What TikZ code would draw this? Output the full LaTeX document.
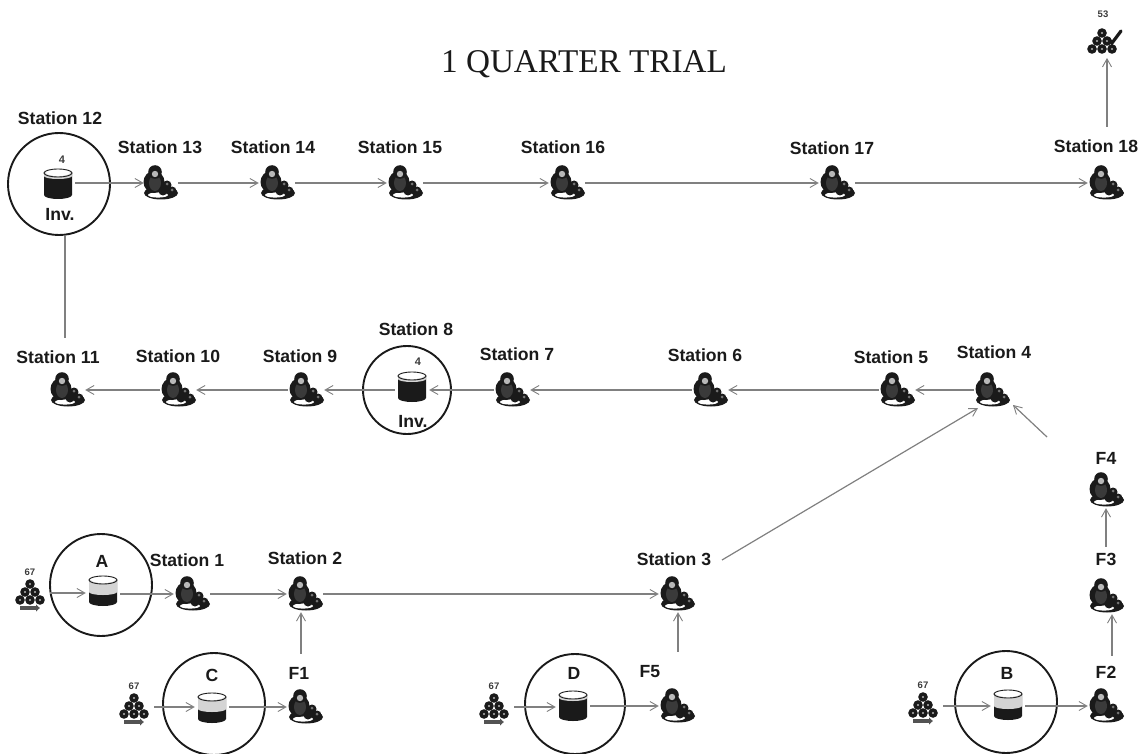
\documentclass[tikz,border=0pt]{standalone}
\usepackage{fontspec}
\setmainfont{Liberation Sans}
\newfontfamily\titlefont{Liberation Serif}
\usetikzlibrary{arrows.meta}
\definecolor{ink}{HTML}{1A1A1A}
\definecolor{body}{HTML}{3A3A3A}
\definecolor{skin}{HTML}{B8B8B8}
\definecolor{wire}{HTML}{808080}
\tikzset{
  x=1pt,y=-1pt,
  lbl/.style={font=\fontsize{17.6}{19}\selectfont\bfseries,text=ink,inner sep=0pt},
  tiny/.style={font=\fontsize{9.5}{10}\selectfont\bfseries,text=ink!85,inner sep=0pt},
  workerbox/.style={minimum width=36pt,minimum height=36pt,inner sep=0pt},
  cylbox/.style={minimum width=34pt,minimum height=32pt,inner sep=0pt},
  pilebox/.style={minimum width=40pt,minimum height=36pt,inner sep=0pt},
  ring/.style={circle,draw=ink,line width=1.9pt,inner sep=0pt},
  conn/.style={draw=wire,line width=1.2pt,-{Straight Barb[length=8pt,width=9pt,line width=.9pt]}},
  plain/.style={draw=wire,line width=1.2pt},
  pics/workericon/.style={code={
    \fill[ink] (1,10) ellipse[x radius=17,y radius=6.5];
    \fill[white] (-2,12) ellipse[x radius=10,y radius=2.6];
    \fill[ink] (-6,-1) ellipse[x radius=10.5,y radius=11];
    \fill[body] (-5,0) ellipse[x radius=6,y radius=8];
    \fill[ink] (-5,-11) circle[radius=6.8];
    \fill[skin] (-5,-9) circle[radius=3.2];
    \fill[ink] (7,2) circle[radius=4.5];
    \fill[ink] (3,8) circle[radius=4.5];
    \fill[ink] (12,8) circle[radius=4.5];
    \fill[body!70] (7,1) circle[radius=1.5];
    \fill[body!70] (12,7) circle[radius=1.5];
  }},
  pics/ballsicon/.style={code={
    \foreach \bx/\by in {0/-9,-5/-1,5/-1,-10/7,0/7,10/7}{
      \fill[ink] (\bx,\by) circle[radius=4.8];
      \fill[skin] (\bx,\by) circle[radius=1.2];
    }
  }},
  pics/feedstripe/.style={code={
    \draw[ink!75,line width=3.6pt,-{Latex[length=4pt,width=8pt]}] (-10,15) -- (10,15);
  }},
  pics/checkicon/.style={code={
    \draw[ink,line width=3.2pt,line cap=round] (6,-4) -- (10,1) -- (19,-11);
  }},
  pics/cylicon/.style={code={
    \fill[ink] (-14,-11) -- (-14,11) arc[start angle=180,end angle=0,x radius=14,y radius=4] -- (14,-11) -- cycle;
    \fill[skin!60] (-14,-11) -- (-14,-11+#1) arc[start angle=180,end angle=0,x radius=14,y radius=3] -- (14,-11) -- cycle;
    \fill[white] (0,-11) ellipse[x radius=12,y radius=3];
    \draw[ink,line width=.9pt] (0,-11) ellipse[x radius=14,y radius=4];
  }},
}
\newcommand{\worker}[2]{\node[workerbox] (#1) at (#2) {}; \pic at (#1) {workericon};}
\newcommand{\store}[3]{\node[cylbox] (#1) at (#2) {}; \pic at (#1) {cylicon=#3};}
\newcommand{\feed}[3]{\node[pilebox] (#1) at (#2) {}; \pic at (#1) {ballsicon}; \pic at (#1) {feedstripe};
  \node[tiny] (#1n) at ([yshift=21pt]#1.center) {#3};}
\begin{document}
\begin{tikzpicture}
\useasboundingbox (0,0) rectangle (1145,754);
\fill[white] (0,0) rectangle (1145,754);

\node[font=\titlefont\fontsize{33.2}{35}\selectfont,text=ink,inner sep=0pt] (title) at (584,64) {1 QUARTER TRIAL};

% top row
\node[ring,minimum size=102pt] (r12) at (59,184) {};
\store{c12}{58,184}{3}
\node[tiny,font=\fontsize{11}{12}\selectfont\bfseries] (n12) at (62,160) {4};
\node[lbl] (i12) at (60,214) {Inv.};
\node[lbl] (s12) at (60,118) {Station 12};
\worker{w13}{160,183}
\worker{w14}{277,183}
\worker{w15}{405,183}
\worker{w16}{567,183}
\worker{w17}{837,183}
\worker{w18}{1106,183}
\node[lbl] (s13) at (160,147) {Station 13};
\node[lbl] (s14) at (273,147) {Station 14};
\node[lbl] (s15) at (400,147) {Station 15};
\node[lbl] (s16) at (563,147) {Station 16};
\node[lbl] (s17) at (832,148) {Station 17};
\node[lbl] (s18) at (1096,146) {Station 18};

% finished goods
\node[pilebox] (done) at (1102,42) {};
\pic at (done) {ballsicon};
\pic at (done) {checkicon};
\node[tiny] (n53) at (1103,14) {53};

% middle row
\worker{w4}{992,390}
\worker{w5}{897,390}
\worker{w6}{710,390}
\worker{w7}{512,390}
\node[ring,minimum size=88pt] (r8) at (407,390) {};
\store{c8}{412,387}{3}
\node[tiny,font=\fontsize{11}{12}\selectfont\bfseries] (n8) at (418,362) {4};
\node[lbl] (i8) at (413,421) {Inv.};
\worker{w9}{306,390}
\worker{w10}{178,390}
\worker{w11}{67,390}
\node[lbl] (s4) at (994,352) {Station 4};
\node[lbl] (s5) at (891,357) {Station 5};
\node[lbl] (s6) at (705,355) {Station 6};
\node[lbl] (s7) at (517,354) {Station 7};
\node[lbl] (s8) at (416,329) {Station 8};
\node[lbl] (s9) at (300,356) {Station 9};
\node[lbl] (s10) at (178,356) {Station 10};
\node[lbl] (s11) at (58,357) {Station 11};

% lower row
\feed{pa}{30,593}{67}
\node[ring,minimum size=102pt] (ra) at (101,585) {};
\store{ca}{103,591}{12}
\node[lbl] (la) at (102,561) {A};
\worker{w1}{192,594}
\worker{w2}{305,594}
\worker{w3}{677,594}
\node[lbl] (s1) at (187,560) {Station 1};
\node[lbl] (s2) at (305,558) {Station 2};
\node[lbl] (s3) at (674,559) {Station 3};

% bottom row
\feed{pc}{134,707}{67}
\node[ring,minimum size=102pt] (rc) at (214,704) {};
\store{cc}{212,708}{12}
\node[lbl] (lc) at (212,675) {C};
\worker{f1}{305,707}
\node[lbl] (lf1) at (299,673) {F1};

\feed{pd}{494,707}{67}
\node[ring,minimum size=100pt] (rd) at (575,704) {};
\store{cd}{573,706}{3}
\node[lbl] (ld) at (574,673) {D};
\worker{f5}{677,706}
\node[lbl] (lf5) at (650,672) {F5};

\feed{pb}{923,706}{67}
\node[ring,minimum size=102pt] (rb) at (1006,702) {};
\store{cb}{1008,705}{12}
\node[lbl] (lb) at (1007,673) {B};
\worker{f2}{1106,706}
\node[lbl] (lf2) at (1106,672) {F2};
\worker{f3}{1106,596}
\node[lbl] (lf3) at (1106,559) {F3};
\worker{f4}{1106,490}
\node[lbl] (lf4) at (1106,458) {F4};

% free ends
\coordinate (from18) at (1107,127);
\coordinate (up18) at (1107,58);
\coordinate (tail12) at (65,338);
\coordinate (tail3) at (722,560);
\coordinate (head4a) at (978,408);
\coordinate (tail4b) at (1047,437);
\coordinate (head4b) at (1013,405);

% connectors
\draw[conn] (c12.east |- w13.west) -- ([xshift=2pt]w13.west);
\draw[conn] (w13) -- (w14);
\draw[conn] (w14) -- (w15);
\draw[conn] (w15) -- (w16);
\draw[conn] (w16) -- (w17);
\draw[conn] (w17) -- (w18);
\draw[conn] (from18) -- (up18);
\draw[plain] (r12.south -| tail12) -- (tail12);
\draw[conn] (w4) -- (w5);
\draw[conn] (w5) -- (w6);
\draw[conn] (w6) -- (w7);
\draw[conn] (w7) -- (c8.east |- w7);
\draw[conn] (c8.west |- w9) -- (w9);
\draw[conn] (w9) -- (w10);
\draw[conn] (w10) -- (w11);
\draw[conn] (tail3) -- (head4a);
\draw[conn] (tail4b) -- (head4b);
\draw[conn] (pa.east) -- (ca.west |- pa.east);
\draw[conn] (ca.east |- w1.west) -- (w1.west);
\draw[conn] (w1) -- (w2);
\draw[conn] (w2) -- (w3);
\draw[conn] ([xshift=-4pt,yshift=35pt]f1.north) -- ([xshift=-4pt]w2.south);
\draw[conn] ([xshift=1pt,yshift=36pt]f5.north) -- ([xshift=1pt]w3.south);
\draw[conn] (pc.east) -- (cc.west |- pc.east);
\draw[conn] (cc.east |- f1.west) -- (f1.west);
\draw[conn] (pd.east) -- (cd.west |- pd.east);
\draw[conn] (cd.east |- f5.west) -- (f5.west);
\draw[conn] (pb.east) -- (cb.west |- pb.east);
\draw[conn] (cb.east |- f2.west) -- (f2.west);
\draw[conn] ([xshift=6pt,yshift=10pt]lf2.north) -- ([xshift=6pt]f3.south);
\draw[conn] ([yshift=6pt]lf3.north) -- (f4.south);
\end{tikzpicture}
\end{document}
